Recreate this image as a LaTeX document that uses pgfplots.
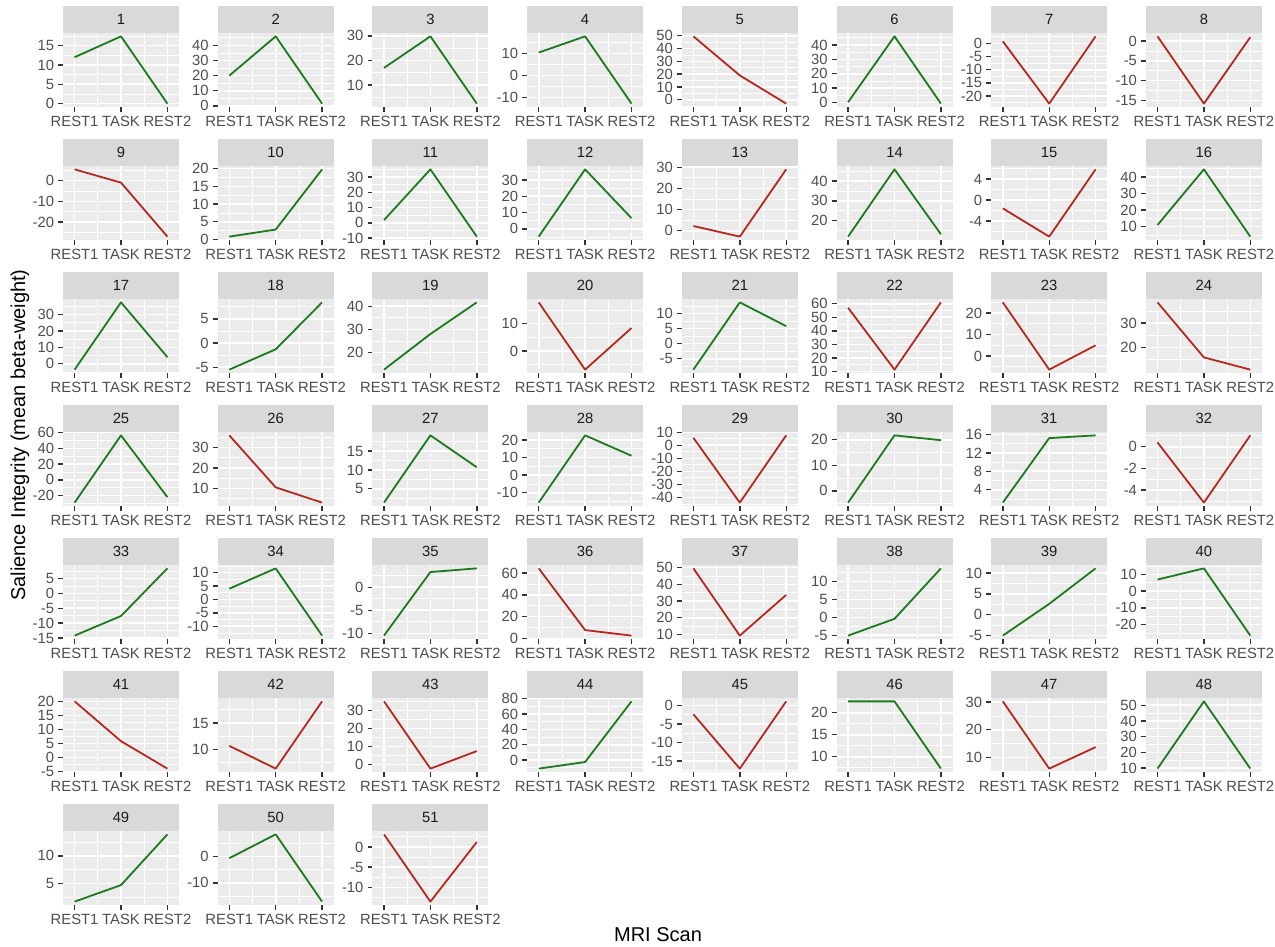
\documentclass[border=0pt]{standalone}
\usepackage{pgfplots}
\pgfplotsset{compat=1.18}
\usepackage{fontspec}
\setmainfont{Liberation Sans}
\definecolor{ggbg}{HTML}{EBEBEB}
\definecolor{ggstrip}{HTML}{D9D9D9}
\definecolor{ggtick}{HTML}{333333}
\definecolor{gglab}{HTML}{4D4D4D}
\definecolor{ggtext}{HTML}{1A1A1A}
\definecolor{gggreen}{HTML}{1C7A1C}
\definecolor{ggred}{HTML}{B5281E}
\newcommand{\tickfont}{\fontsize{14.8}{16}\selectfont}
\pgfplotsset{ggpanel/.style={
  scale only axis, width=116pt, height=74pt,
  anchor=south west,
  axis background/.style={fill=ggbg},
  axis line style={draw=none},
  xmin=-0.25, xmax=2.25,
  xtick={0,1,2}, xticklabels={REST1,TASK,REST2},
  minor xtick={0.5,1.5},
  enlarge y limits=0.05,
  grid=both,
  major grid style={white, line width=1.6pt},
  minor grid style={white, line width=0.8pt},
  tick align=outside,
  major tick length=4.9pt,
  minor tick length=0pt,
  xtick pos=lower, ytick pos=left,
  tick style={color=ggtick, line width=1.4pt},
  ticklabel style={font=\tickfont, text=gglab, inner sep=0pt},
  xticklabel style={yshift=-3.9pt},
  yticklabel style={xshift=-3.9pt},
  /pgf/number format/assume math mode=true,
  every axis title shift=0pt,
  title style={at={(0.5,1)}, anchor=south, yshift=0pt, fill=ggstrip,
    minimum width=116pt, minimum height=27pt, inner sep=0pt,
    font=\tickfont, text=ggtext},
}}
\newcommand{\panel}[8]{%
  \pgfmathsetmacro{\px}{63+154.7*#1}%
  \pgfmathsetmacro{\py}{42+133*(6-#2)}%
  \pgfmathsetmacro{\ta}{#6+#7}%
  \pgfmathsetmacro{\ma}{#6-#7/2}%
  \pgfmathsetmacro{\mb}{#6+#7/2}%
  \pgfmathsetmacro{\mc}{#8+#7/2}%
  \begin{axis}[ggpanel, at={(\px pt,\py pt)}, title={#3},
    ytick={#6,\ta,...,#8}, minor ytick={\ma,\mb,...,\mc}]
    \addplot[color=#4, line width=1.8pt, line join=round] coordinates {#5};
  \end{axis}}
\begin{document}
\begin{tikzpicture}
\path[use as bounding box] (0,0) rectangle (1275pt,947pt);
% row 1
\panel{0}{0}{1}{gggreen}{(0,12)(1,17.4)(2,0)}{0}{5}{15}
\panel{1}{0}{2}{gggreen}{(0,20)(1,46)(2,1.5)}{0}{10}{40}
\panel{2}{0}{3}{gggreen}{(0,17)(1,29.8)(2,2.5)}{10}{10}{30}
\panel{3}{0}{4}{gggreen}{(0,10.5)(1,17.9)(2,-12.8)}{-10}{10}{10}
\panel{4}{0}{5}{ggred}{(0,49.5)(1,19)(2,-3)}{0}{10}{50}
\panel{5}{0}{6}{gggreen}{(0,0.2)(1,46)(2,-0.8)}{0}{10}{40}
\panel{6}{0}{7}{ggred}{(0,0.8)(1,-22.9)(2,2.7)}{-20}{5}{0}
\panel{7}{0}{8}{ggred}{(0,1.2)(1,-15.8)(2,1.0)}{-15}{5}{0}
% row 2
\panel{0}{1}{9}{ggred}{(0,5.4)(1,-1)(2,-27)}{-20}{10}{0}
\panel{1}{1}{10}{gggreen}{(0,0.8)(1,2.8)(2,19.8)}{0}{5}{20}
\panel{2}{1}{11}{gggreen}{(0,1.8)(1,35)(2,-9)}{-10}{10}{30}
\panel{3}{1}{12}{gggreen}{(0,-4.8)(1,36.5)(2,6.5)}{0}{10}{30}
\panel{4}{1}{13}{ggred}{(0,2.2)(1,-2.8)(2,29)}{0}{10}{30}
\panel{5}{1}{14}{gggreen}{(0,11.8)(1,46)(2,13)}{20}{10}{40}
\panel{6}{1}{15}{ggred}{(0,-1.6)(1,-7.0)(2,5.85)}{-4}{4}{4}
\panel{7}{1}{16}{gggreen}{(0,11)(1,44.6)(2,4)}{10}{10}{40}
% row 3
\panel{0}{2}{17}{gggreen}{(0,-3.6)(1,37.5)(2,4)}{0}{10}{30}
\panel{1}{2}{18}{gggreen}{(0,-5.5)(1,-1.3)(2,8.4)}{-5}{5}{5}
\panel{2}{2}{19}{gggreen}{(0,12.6)(1,28)(2,41.7)}{20}{10}{40}
\panel{3}{2}{20}{ggred}{(0,17.8)(1,-6.8)(2,8.4)}{0}{10}{10}
\panel{4}{2}{21}{gggreen}{(0,-8.6)(1,13.7)(2,5.8)}{-5}{5}{10}
\panel{5}{2}{22}{ggred}{(0,57)(1,11.4)(2,61)}{10}{10}{60}
\panel{6}{2}{23}{ggred}{(0,25)(1,-6.3)(2,5)}{0}{10}{20}
\panel{7}{2}{24}{ggred}{(0,38.5)(1,16)(2,11)}{20}{10}{30}
% row 4
\panel{0}{3}{25}{gggreen}{(0,-29)(1,56.5)(2,-22)}{-20}{20}{60}
\panel{1}{3}{26}{ggred}{(0,36)(1,10.5)(2,3)}{10}{10}{30}
\panel{2}{3}{27}{gggreen}{(0,1.3)(1,19.2)(2,10.7)}{5}{5}{15}
\panel{3}{3}{28}{gggreen}{(0,-15.6)(1,22.6)(2,11)}{-10}{10}{20}
\panel{4}{3}{29}{ggred}{(0,5.7)(1,-44)(2,7.6)}{-40}{10}{10}
\panel{5}{3}{30}{gggreen}{(0,-4.6)(1,21.7)(2,19.8)}{0}{10}{20}
\panel{6}{3}{31}{gggreen}{(0,1.2)(1,15.2)(2,15.8)}{4}{4}{16}
\panel{7}{3}{32}{ggred}{(0,0.4)(1,-5.15)(2,1.05)}{-4}{2}{0}
% row 5
\panel{0}{4}{33}{gggreen}{(0,-14.2)(1,-7.6)(2,8.4)}{-15}{5}{5}
\panel{1}{4}{34}{gggreen}{(0,4)(1,11.6)(2,-13.5)}{-10}{5}{10}
\panel{2}{4}{35}{gggreen}{(0,-10.5)(1,3.3)(2,4.1)}{-10}{5}{0}
\panel{3}{4}{36}{ggred}{(0,64.3)(1,7.6)(2,2.5)}{0}{20}{60}
\panel{4}{4}{37}{ggred}{(0,49.6)(1,9.3)(2,33.7)}{10}{10}{50}
\panel{5}{4}{38}{gggreen}{(0,-5.1)(1,-0.4)(2,13.7)}{-5}{5}{10}
\panel{6}{4}{39}{gggreen}{(0,-5)(1,2.6)(2,11.1)}{-5}{5}{10}
\panel{7}{4}{40}{gggreen}{(0,6.9)(1,13.6)(2,-26.6)}{-20}{10}{10}
% row 6
\panel{0}{5}{41}{ggred}{(0,20)(1,5.8)(2,-4)}{-5}{5}{20}
\panel{1}{5}{42}{ggred}{(0,10.7)(1,6.4)(2,19.1)}{10}{5}{15}
\panel{2}{5}{43}{ggred}{(0,35.2)(1,-2.4)(2,7.4)}{0}{10}{30}
\panel{3}{5}{44}{gggreen}{(0,-11)(1,-2.4)(2,76.5)}{0}{20}{80}
\panel{4}{5}{45}{ggred}{(0,-2.4)(1,-17)(2,1.1)}{-15}{5}{0}
\panel{5}{5}{46}{gggreen}{(0,22.6)(1,22.6)(2,7.3)}{10}{5}{20}
\panel{6}{5}{47}{ggred}{(0,30.3)(1,5.9)(2,13.7)}{10}{10}{30}
\panel{7}{5}{48}{gggreen}{(0,9.6)(1,52.5)(2,9.6)}{10}{10}{50}
% row 7
\panel{0}{6}{49}{gggreen}{(0,1.7)(1,4.7)(2,13.9)}{5}{5}{10}
\panel{1}{6}{50}{gggreen}{(0,-0.7)(1,8.3)(2,-17.1)}{-10}{10}{0}
\panel{2}{6}{51}{ggred}{(0,3.1)(1,-13.5)(2,1.2)}{-10}{5}{0}
\node[rotate=90, font=\fontsize{20}{22}\selectfont, text=black] at (20pt,512pt) {Salience Integrity (mean beta-weight)};
\node[font=\fontsize{20}{22}\selectfont, text=black] at (658pt,12pt) {MRI Scan};
\end{tikzpicture}
\end{document}
